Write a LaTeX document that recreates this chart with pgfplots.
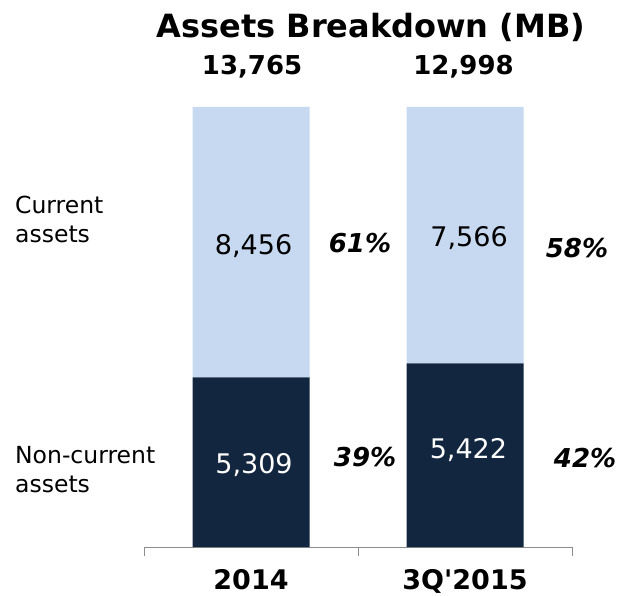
\documentclass[border=0pt]{standalone}
\usepackage{fontspec}
\setmainfont{DejaVu Sans}
\newfontfamily\plainfont{DejaVu Sans}
\usepackage{pgfplots}
\pgfplotsset{compat=1.18}
\usetikzlibrary{calc}

\definecolor{curblue}{HTML}{C6D9F0}
\definecolor{noncur}{HTML}{13263F}
\definecolor{axgray}{HTML}{8C8C8C}

\newcommand{\fs}[1]{\fontsize{#1}{#1}\selectfont}

\begin{document}
\begin{tikzpicture}
\begin{axis}[
    name=ax,
    scale only axis,
    width=428pt,
    height=440pt,
    ybar stacked,
    bar width=117pt,
    xmin=-0.5, xmax=1.5,
    ymin=0, ymax=100,
    axis y line=none,
    axis x line*=bottom,
    x axis line style={axgray, line width=1pt},
    xtick={0,1},
    xticklabels={2014,3Q'2015},
    xticklabel style={font=\plainfont\bfseries\fs{27}, anchor=base, inner sep=0pt, yshift=-42pt},
    major tick length=0pt,
    extra x ticks={-0.5,0.5,1.5},
    extra x tick labels={},
    extra x tick style={major tick length=9pt, tick align=outside,
        tick style={axgray, line width=1pt}},
    clip=false,
]
% non-current share, then current share (percent of total)
\addplot[fill=noncur, draw=none] coordinates {(0,38.57) (1,41.71)};
\addplot[fill=curblue, draw=none] coordinates {(0,61.43) (1,58.29)};

% label anchors (baselines), drawn after the axis so they sit on the bars
\coordinate (v1) at (axis cs:0.014,16.8);
\coordinate (v2) at (axis cs:1.016,20.2);
\coordinate (v3) at (axis cs:0.012,66.4);
\coordinate (v4) at (axis cs:1.019,68.2);
\coordinate (p1) at (axis cs:0.509,67.0);
\coordinate (p2) at (axis cs:0.533,18.2);
\coordinate (p3) at (axis cs:1.523,65.9);
\coordinate (p4) at (axis cs:1.561,18.0);
\coordinate (t1) at (axis cs:0.005,107.3);
\coordinate (t2) at (axis cs:0.993,107.3);
\coordinate (tt) at (axis cs:0.561,115.9);
\coordinate (r1) at (axis cs:-1.103,75.7);
\coordinate (r2) at (axis cs:-1.103,69.1);
\coordinate (r3) at (axis cs:-1.103,18.9);
\coordinate (r4) at (axis cs:-1.103,12.3);
\end{axis}

\begin{scope}[every node/.style={anchor=base}]
\node[white, font=\fs{27}] at (v1) {5,309};
\node[white, font=\fs{27}] at (v2) {5,422};
\node[black, font=\fs{27}] at (v3) {8,456};
\node[black, font=\fs{27}] at (v4) {7,566};

\node[font=\bfseries\itshape\fs{26}] at (p1) {61\%};
\node[font=\bfseries\itshape\fs{26}] at (p2) {39\%};
\node[font=\bfseries\itshape\fs{26}] at (p3) {58\%};
\node[font=\bfseries\itshape\fs{26}] at (p4) {42\%};

\node[font=\bfseries\fs{26}] at (t1) {13,765};
\node[font=\bfseries\fs{26}] at (t2) {12,998};
\node[font=\bfseries\fs{32}] at (tt) {Assets Breakdown (MB)};

\node[anchor=base west, font=\fs{23.5}, inner sep=0pt] at (r1) {Current};
\node[anchor=base west, font=\fs{23.5}, inner sep=0pt] at (r2) {assets};
\node[anchor=base west, font=\fs{23.5}, inner sep=0pt] at (r3) {Non-current};
\node[anchor=base west, font=\fs{23.5}, inner sep=0pt] at (r4) {assets};
\end{scope}

\pgfresetboundingbox
\path ($(ax.south west)+(-144pt,-48pt)$) rectangle ($(ax.north east)+(51pt,107pt)$);
\end{tikzpicture}
\end{document}
